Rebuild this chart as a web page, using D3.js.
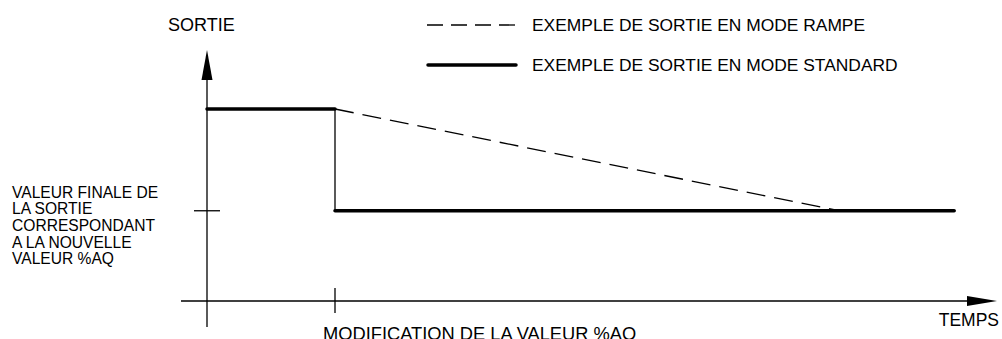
<!DOCTYPE html>
<html>
<head>
<meta charset="utf-8">
<script src="https://cdn.jsdelivr.net/npm/d3@7"></script>
<style>
  html, body { margin: 0; padding: 0; background: #fff; }
  svg text { font-family: "Liberation Sans", Arial, sans-serif; fill: #000; }
</style>
</head>
<body>
<div class="chart"></div>
<script>
// time (x) and output (y) in arbitrary units
var changeTime = 16;          // modification de la valeur %AQ
var rampEndTime = 79;         // ramp reaches the final value
var endTime = 93.4;           // end of the standard curve
var initialOutput = 100;
var finalOutput = 47;

var standardHigh = [{t: 0, v: initialOutput}, {t: changeTime, v: initialOutput}];
var standardDrop = [{t: changeTime, v: initialOutput}, {t: changeTime, v: finalOutput}];
var standardLow = [{t: changeTime, v: finalOutput}, {t: endTime, v: finalOutput}];
var rampLine = [{t: changeTime, v: initialOutput}, {t: rampEndTime, v: finalOutput}];

var xAxisExtent = [-3.25, 98.75];
var yAxisExtent = [-13.5, 130.7];

var legendLabels = ["EXEMPLE DE SORTIE EN MODE RAMPE", "EXEMPLE DE SORTIE EN MODE STANDARD"];
var finalLabel = ["VALEUR FINALE DE", "LA SORTIE", "CORRESPONDANT", "A LA NOUVELLE", "VALEUR %AQ"];

function drawChart() {
  var width = 1002, height = 339;
  var x = d3.scaleLinear().domain([0, 100]).range([207, 1007]);
  var y = d3.scaleLinear().domain([0, 100]).range([301, 109]);

  var svg = d3.select(".chart").append("svg")
    .attr("width", width)
    .attr("height", height);

  var line = d3.line().x(d => x(d.t)).y(d => y(d.v));

  // axes
  var x0 = x(xAxisExtent[0]), x1 = x(xAxisExtent[1]);
  var yTop = y(yAxisExtent[1]), yBot = y(yAxisExtent[0]);
  svg.append("line")
    .attr("x1", x0).attr("x2", x1 - 20)
    .attr("y1", y(0)).attr("y2", y(0))
    .attr("stroke", "#000").attr("stroke-width", 1.3);
  svg.append("line")
    .attr("x1", x(0)).attr("x2", x(0))
    .attr("y1", yBot).attr("y2", yTop + 20)
    .attr("stroke", "#000").attr("stroke-width", 1.3);

  // arrow heads
  svg.append("path")
    .attr("d", `M${x1},${y(0)} L${x1 - 30},${y(0) - 5} L${x1 - 30},${y(0) + 5} Z`)
    .attr("fill", "#000");
  svg.append("path")
    .attr("d", `M${x(0)},${yTop} L${x(0) - 5.5},${yTop + 30} L${x(0) + 5.5},${yTop + 30} Z`)
    .attr("fill", "#000");

  // ticks
  svg.append("line")
    .attr("x1", x(0) - 13).attr("x2", x(0) + 13)
    .attr("y1", y(finalOutput)).attr("y2", y(finalOutput))
    .attr("stroke", "#000").attr("stroke-width", 1.3);
  svg.append("line")
    .attr("x1", x(changeTime)).attr("x2", x(changeTime))
    .attr("y1", y(0) - 13).attr("y2", y(0) + 12)
    .attr("stroke", "#000").attr("stroke-width", 1.3);

  // ramp (dashed)
  svg.append("path")
    .datum(rampLine)
    .attr("d", line)
    .attr("fill", "none").attr("stroke", "#000")
    .attr("stroke-width", 1.3).attr("stroke-dasharray", "19,9");

  // standard
  svg.append("path")
    .datum(standardDrop)
    .attr("d", line)
    .attr("fill", "none").attr("stroke", "#000").attr("stroke-width", 1.3);
  [standardHigh, standardLow].forEach(function(seg) {
    svg.append("path")
      .datum(seg)
      .attr("d", line)
      .attr("fill", "none").attr("stroke", "#000")
      .attr("stroke-width", 3.5).attr("stroke-linecap", "round");
  });

  // legend
  var legend = svg.append("g");
  legend.append("line")
    .attr("x1", 427).attr("x2", 515).attr("y1", 25).attr("y2", 25)
    .attr("stroke", "#000").attr("stroke-width", 1.3).attr("stroke-dasharray", "16,8");
  legend.append("line")
    .attr("x1", 428).attr("x2", 516).attr("y1", 65).attr("y2", 65)
    .attr("stroke", "#000").attr("stroke-width", 3.5).attr("stroke-linecap", "round");
  legend.selectAll("text")
    .data(legendLabels)
    .enter().append("text")
    .attr("x", 532)
    .attr("y", (d, i) => 31 + i * 40)
    .attr("font-size", 17.4)
    .text(d => d);

  // labels
  svg.append("text").attr("x", 168).attr("y", 31).attr("font-size", 18).text("SORTIE");
  svg.append("text").attr("x", 999).attr("y", 326).attr("font-size", 17.5)
    .attr("text-anchor", "end").text("TEMPS");
  svg.append("text").attr("x", 323).attr("y", 339.5).attr("font-size", 18.3)
    .text("MODIFICATION DE LA VALEUR %AQ");
  svg.append("g").selectAll("text")
    .data(finalLabel)
    .enter().append("text")
    .attr("x", 12)
    .attr("y", (d, i) => 197.5 + i * 16.7)
    .attr("font-size", 15.6)
    .text(d => d);
}

drawChart();
</script>
</body>
</html>
